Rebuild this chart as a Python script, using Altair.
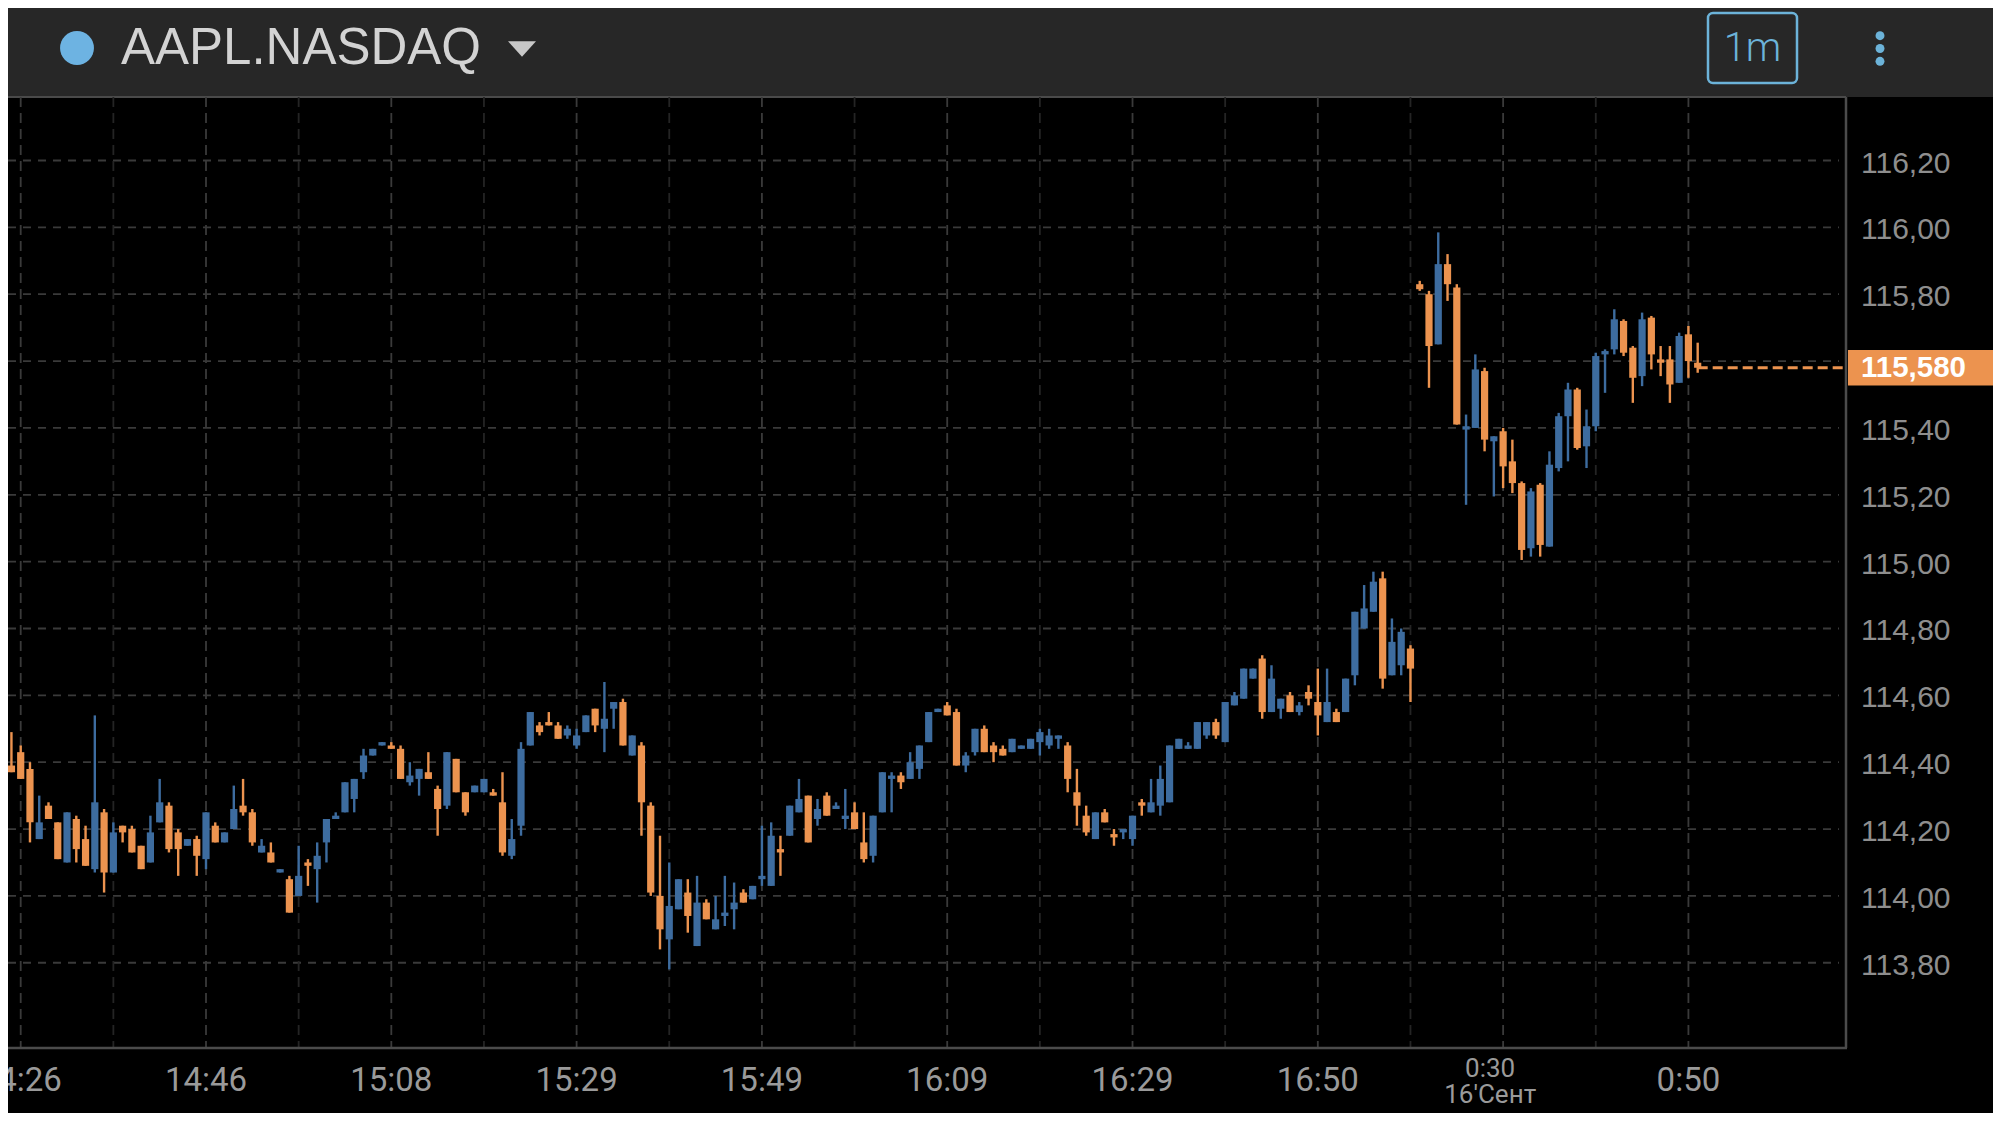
import altair as alt
import pandas as pd

# ---------------- data ----------------
first_index = -2
opens = [
    114.35, 114.39, 114.43, 114.38, 114.17, 114.27, 114.22, 114.10, 114.23, 114.17,
    114.08, 114.25, 114.07, 114.21, 114.20, 114.15, 114.10, 114.22, 114.27, 114.19,
    114.15, 114.17, 114.11, 114.21, 114.16, 114.20, 114.27, 114.25, 114.13, 114.13,
    114.07, 114.05, 114.00, 114.10, 114.08, 114.16, 114.23, 114.25, 114.29, 114.37,
    114.42, 114.45, 114.45, 114.44, 114.34, 114.35, 114.37, 114.32, 114.27, 114.41,
    114.31, 114.31, 114.31, 114.31, 114.28, 114.12, 114.21, 114.45, 114.51, 114.52,
    114.51, 114.48, 114.45, 114.49, 114.56, 114.50, 114.56, 114.58, 114.42, 114.45,
    114.27, 114.00, 113.87, 113.96, 114.01, 113.85, 113.98, 113.90, 113.94, 113.96,
    114.01, 113.99, 114.05, 114.03, 114.14, 114.18, 114.25, 114.30, 114.23, 114.30,
    114.26, 114.23, 114.25, 114.16, 114.12, 114.25, 114.35, 114.36, 114.35, 114.38,
    114.46, 114.55, 114.57, 114.55, 114.39, 114.43, 114.50, 114.45, 114.44, 114.43,
    114.44, 114.44, 114.46, 114.45, 114.47, 114.45, 114.31, 114.24, 114.17, 114.25,
    114.185, 114.19, 114.17, 114.28, 114.25, 114.27, 114.28, 114.44, 114.44, 114.44,
    114.48, 114.52, 114.46, 114.57, 114.59, 114.65, 114.71, 114.55, 114.56, 114.60,
    114.55, 114.61, 114.58, 114.52, 114.55, 114.55, 114.66, 114.80, 114.85, 114.95,
    114.66, 114.69, 114.74, 115.83, 115.80, 115.65, 115.89, 115.82, 115.395, 115.40,
    115.57, 115.36, 115.39, 115.30, 115.235, 115.04, 115.23, 115.045, 115.28, 115.435,
    115.515, 115.345, 115.405, 115.62, 115.635, 115.72, 115.64, 115.555, 115.73, 115.605,
    115.605, 115.535, 115.68, 115.595,
]
highs = [
    114.42, 114.49, 114.45, 114.40, 114.30, 114.28, 114.22, 114.25, 114.24, 114.21,
    114.54, 114.26, 114.22, 114.21, 114.21, 114.15, 114.24, 114.35, 114.28, 114.20,
    114.17, 114.18, 114.25, 114.22, 114.19, 114.33, 114.35, 114.26, 114.17, 114.16,
    114.08, 114.06, 114.15, 114.11, 114.16, 114.23, 114.25, 114.34, 114.35, 114.44,
    114.44, 114.46, 114.46, 114.45, 114.40, 114.38, 114.43, 114.33, 114.43, 114.41,
    114.31, 114.33, 114.35, 114.32, 114.37, 114.23, 114.46, 114.55, 114.52, 114.55,
    114.52, 114.51, 114.50, 114.54, 114.56, 114.64, 114.58, 114.59, 114.48, 114.46,
    114.28, 114.18, 114.10, 114.05, 114.05, 114.06, 113.99, 114.00, 114.06, 114.04,
    114.02, 114.03, 114.21, 114.22, 114.18, 114.27, 114.35, 114.30, 114.29, 114.31,
    114.28, 114.32, 114.28, 114.25, 114.24, 114.37, 114.37, 114.37, 114.43, 114.45,
    114.55, 114.56, 114.58, 114.56, 114.43, 114.50, 114.51, 114.46, 114.45, 114.47,
    114.45, 114.47, 114.50, 114.50, 114.48, 114.46, 114.38, 114.27, 114.25, 114.26,
    114.20, 114.20, 114.24, 114.29, 114.35, 114.39, 114.45, 114.47, 114.46, 114.52,
    114.52, 114.53, 114.58, 114.61, 114.68, 114.68, 114.72, 114.69, 114.59, 114.61,
    114.58, 114.63, 114.68, 114.68, 114.56, 114.65, 114.85, 114.93, 114.97, 114.97,
    114.83, 114.80, 114.75, 115.84, 115.81, 115.985, 115.92, 115.83, 115.44, 115.62,
    115.58, 115.375, 115.40, 115.365, 115.24, 115.22, 115.235, 115.33, 115.445, 115.535,
    115.52, 115.455, 115.625, 115.635, 115.755, 115.725, 115.645, 115.745, 115.735, 115.645,
    115.645, 115.685, 115.705, 115.655,
]
lows = [
    114.31, 114.37, 114.35, 114.16, 114.17, 114.23, 114.11, 114.10, 114.10, 114.09,
    114.07, 114.01, 114.07, 114.16, 114.13, 114.08, 114.10, 114.22, 114.13, 114.06,
    114.15, 114.06, 114.08, 114.16, 114.16, 114.20, 114.24, 114.15, 114.13, 114.10,
    114.07, 113.95, 114.00, 114.03, 113.98, 114.10, 114.23, 114.25, 114.25, 114.35,
    114.42, 114.45, 114.44, 114.35, 114.33, 114.30, 114.35, 114.18, 114.26, 114.31,
    114.24, 114.31, 114.31, 114.30, 114.12, 114.11, 114.18, 114.45, 114.48, 114.51,
    114.47, 114.47, 114.44, 114.49, 114.49, 114.43, 114.50, 114.45, 114.42, 114.18,
    114.00, 113.84, 113.78, 113.96, 113.89, 113.85, 113.93, 113.90, 113.91, 113.90,
    113.98, 113.99, 114.03, 114.03, 114.06, 114.18, 114.25, 114.16, 114.21, 114.24,
    114.26, 114.20, 114.20, 114.10, 114.10, 114.25, 114.25, 114.32, 114.35, 114.35,
    114.46, 114.55, 114.54, 114.39, 114.37, 114.42, 114.43, 114.40, 114.42, 114.43,
    114.44, 114.44, 114.42, 114.44, 114.44, 114.31, 114.21, 114.18, 114.17, 114.22,
    114.15, 114.17, 114.15, 114.24, 114.25, 114.24, 114.28, 114.44, 114.44, 114.44,
    114.47, 114.47, 114.46, 114.57, 114.59, 114.65, 114.53, 114.55, 114.53, 114.55,
    114.54, 114.57, 114.48, 114.52, 114.52, 114.55, 114.63, 114.80, 114.85, 114.62,
    114.66, 114.66, 114.58, 115.81, 115.52, 115.65, 115.78, 115.41, 115.17, 115.40,
    115.33, 115.195, 115.22, 115.205, 115.005, 115.015, 115.015, 115.045, 115.27, 115.30,
    115.335, 115.28, 115.39, 115.505, 115.62, 115.615, 115.475, 115.525, 115.575, 115.555,
    115.475, 115.535, 115.55, 115.565,
]
closes = [
    114.40, 114.37, 114.35, 114.22, 114.22, 114.23, 114.11, 114.25, 114.14, 114.09,
    114.28, 114.07, 114.19, 114.19, 114.13, 114.08, 114.19, 114.28, 114.14, 114.14,
    114.17, 114.12, 114.25, 114.16, 114.19, 114.26, 114.25, 114.16, 114.15, 114.10,
    114.08, 113.95, 114.06, 114.09, 114.12, 114.23, 114.24, 114.34, 114.35, 114.42,
    114.44, 114.46, 114.44, 114.35, 114.36, 114.38, 114.35, 114.26, 114.43, 114.31,
    114.25, 114.33, 114.35, 114.30, 114.13, 114.17, 114.44, 114.55, 114.49, 114.51,
    114.47, 114.50, 114.48, 114.54, 114.51, 114.53, 114.58, 114.45, 114.48, 114.28,
    114.01, 113.90, 113.97, 114.05, 113.94, 113.98, 113.93, 113.93, 113.95, 113.98,
    113.98, 114.03, 114.06, 114.18, 114.13, 114.27, 114.29, 114.16, 114.26, 114.24,
    114.27, 114.24, 114.20, 114.11, 114.24, 114.37, 114.36, 114.34, 114.40, 114.45,
    114.55, 114.56, 114.54, 114.39, 114.42, 114.50, 114.43, 114.43, 114.42, 114.47,
    114.45, 114.47, 114.49, 114.48, 114.48, 114.35, 114.27, 114.19, 114.25, 114.22,
    114.175, 114.20, 114.24, 114.27, 114.28, 114.35, 114.45, 114.47, 114.45, 114.52,
    114.52, 114.48, 114.58, 114.60, 114.68, 114.68, 114.55, 114.65, 114.59, 114.55,
    114.57, 114.59, 114.54, 114.58, 114.52, 114.65, 114.85, 114.86, 114.94, 114.65,
    114.76, 114.79, 114.68, 115.815, 115.645, 115.89, 115.83, 115.41, 115.405, 115.575,
    115.365, 115.375, 115.285, 115.235, 115.035, 115.21, 115.05, 115.29, 115.435, 115.515,
    115.34, 115.405, 115.615, 115.63, 115.725, 115.625, 115.55, 115.725, 115.62, 115.595,
    115.53, 115.675, 115.60, 115.58,
]

# axis ticks / labels
price_grid = [113.8, 114.0, 114.2, 114.4, 114.6, 114.8, 115.0, 115.2, 115.4, 115.6, 115.8, 116.0, 116.2]
major_idx = [0, 20, 40, 60, 80, 100, 120, 140, 160, 180]
minor_idx = [10, 30, 50, 70, 90, 110, 130, 150, 170]
time_idx = [0, 20, 40, 60, 80, 100, 120, 140, 180]
time_labels = ["14:26", "14:46", "15:08", "15:29", "15:49", "16:09", "16:29", "16:50", "0:50"]
day_idx = 158.6
day_time = "0:30"
day_label = "16'Сент"
symbol = "AAPL.NASDAQ"
interval = "1m"

# ---------------- styles ----------------
W, H = 1837, 951
BLUE = "#3d6c9f"
ORANGE = "#ec934f"
HEADER = "#272727"
ACCENT = "#6cb3d9"
X_DOMAIN = [-1.371, 196.9]
Y_DOMAIN = [113.545, 116.390]

df = pd.DataFrame({
    "i": list(range(first_index, first_index + len(opens))),
    "open": opens, "high": highs, "low": lows, "close": closes,
})
df["dir"] = ["up" if c >= o else "down" for o, c in zip(df["open"], df["close"])]

xs = alt.Scale(domain=X_DOMAIN, nice=False, zero=False, padding=0)
ys = alt.Scale(domain=Y_DOMAIN, nice=False, zero=False, padding=0)
color = alt.Color("dir:N", scale=alt.Scale(domain=["up", "down"], range=[BLUE, ORANGE]), legend=None)

one = pd.DataFrame({"k": [0]})

header = alt.Chart(one).mark_rect(color=HEADER).encode(
    x=alt.value(0), x2=alt.value(2000), y=alt.value(-100), y2=alt.value(0))
header_line = alt.Chart(one).mark_rule(color="#4a4a4a", strokeWidth=2).encode(
    x=alt.value(0), x2=alt.value(1838), y=alt.value(0))

hgrid = alt.Chart(pd.DataFrame({"p": price_grid})).mark_rule(
    color="#3a3a3a", strokeWidth=1.8, strokeDash=[8, 7]
).encode(y=alt.Y("p:Q", scale=ys, axis=None), x=alt.value(0), x2=alt.value(1831))

ylab_df = pd.DataFrame({
    "p": [v for v in price_grid if abs(v - 115.6) > 1e-6],
})
ylab_df["t"] = [f"{v:.2f}".replace(".", ",") for v in ylab_df["p"]]
ylabels = alt.Chart(ylab_df).mark_text(
    align="left", baseline="middle", dy=3, font="Liberation Sans", fontSize=30, color="#8e8e8e"
).encode(x=alt.value(1853), y=alt.Y("p:Q", scale=ys, axis=None), text="t:N")

vgrid_major = alt.Chart(pd.DataFrame({"g": major_idx})).mark_rule(
    color="#3a3a3a", strokeWidth=1.8, strokeDash=[10, 6]
).encode(x=alt.X("g:Q", scale=xs, axis=None), y=alt.value(0), y2=alt.value(H))
vgrid_minor = alt.Chart(pd.DataFrame({"g": minor_idx})).mark_rule(
    color="#242424", strokeWidth=1.8, strokeDash=[10, 6]
).encode(x=alt.X("g:Q", scale=xs, axis=None), y=alt.value(0), y2=alt.value(H))

frame_right = alt.Chart(one).mark_rule(color="#4b4b4b", strokeWidth=2.5).encode(
    x=alt.value(1838), y=alt.value(0), y2=alt.value(H))
frame_bottom = alt.Chart(one).mark_rule(color="#4b4b4b", strokeWidth=2.5).encode(
    x=alt.value(0), x2=alt.value(1839), y=alt.value(H))

last = df.iloc[-1]
last_df = pd.DataFrame({"i": [last["i"]], "p": [last["close"]],
                        "label": [f"{last['close']:.3f}".replace(".", ",")]})

price_line = alt.Chart(last_df).mark_rule(color=ORANGE, strokeWidth=3, strokeDash=[10, 5]).encode(
    x=alt.X("i:Q", scale=xs, axis=None), x2=alt.value(1838),
    y=alt.Y("p:Q", scale=ys, axis=None))

wicks = alt.Chart(df).mark_rule(strokeWidth=2.4).encode(
    x=alt.X("i:Q", scale=xs, axis=None),
    y=alt.Y("low:Q", scale=ys, axis=None), y2="high:Q", color=color)
bodies = alt.Chart(df).mark_bar(width=7.2).encode(
    x=alt.X("i:Q", scale=xs, axis=None),
    y=alt.Y("open:Q", scale=ys, axis=None), y2="close:Q", color=color)

tag = alt.Chart(last_df).mark_rect(color=ORANGE, yOffset=-17.8, y2Offset=17.8).encode(
    x=alt.value(1840), x2=alt.value(1995),
    y=alt.Y("p:Q", scale=ys, axis=None), y2="p:Q")
tag_text = alt.Chart(last_df).mark_text(
    align="left", baseline="middle", font="Liberation Sans", fontSize=29.5,
    fontWeight="bold", color="#ffffff"
).encode(x=alt.value(1853), y=alt.Y("p:Q", scale=ys, axis=None), text="label:N")

xlabels = alt.Chart(pd.DataFrame({"i": time_idx, "t": time_labels})).mark_text(
    align="center", baseline="middle", font="Roboto", fontSize=33, color="#9a9a9a"
).encode(x=alt.X("i:Q", scale=xs, axis=None), y=alt.value(984), text="t:N")
day_df = pd.DataFrame({"i": [day_idx], "a": [day_time], "b": [day_label]})
day1 = alt.Chart(day_df).mark_text(
    align="center", baseline="middle", font="Roboto", fontSize=26, color="#9a9a9a"
).encode(x=alt.X("i:Q", scale=xs, axis=None), y=alt.value(972), text="a:N")
day2 = alt.Chart(day_df).mark_text(
    align="center", baseline="middle", font="Roboto", fontSize=26, color="#9a9a9a"
).encode(x=alt.X("i:Q", scale=xs, axis=None), y=alt.value(998), text="b:N")

title = alt.Chart(pd.DataFrame({"t": [symbol]})).mark_text(
    align="left", baseline="middle", font="Liberation Sans", fontSize=51, color="#d3d3d3"
).encode(x=alt.value(113), y=alt.value(-48), text="t:N")
dot = alt.Chart(one).mark_point(filled=True, shape="circle", size=1150, color="#6db3e2", opacity=1).encode(
    x=alt.value(69), y=alt.value(-49))
caret = alt.Chart(one).mark_point(
    filled=True, shape="M-1,-0.55L1,-0.55L0,0.55Z", size=784, color="#c8c8c8", opacity=1
).encode(x=alt.value(514), y=alt.value(-48))
box = alt.Chart(one).mark_rect(fill=HEADER, stroke=ACCENT, strokeWidth=2.5, cornerRadius=5).encode(
    x=alt.value(1700), x2=alt.value(1789), y=alt.value(-84), y2=alt.value(-14))
box_text = alt.Chart(pd.DataFrame({"t": [interval]})).mark_text(
    align="center", baseline="middle", font="Roboto", fontWeight=300, fontSize=40, color=ACCENT
).encode(x=alt.value(1744.5), y=alt.value(-48), text="t:N")
menu = [alt.Chart(one).mark_point(filled=True, shape="circle", size=80, color=ACCENT, opacity=1).encode(
    x=alt.value(1872), y=alt.value(yy)) for yy in (-61.3, -48.5, -35.7)]

chart = alt.layer(
    header, header_line, hgrid, vgrid_minor, vgrid_major, frame_right, frame_bottom,
    price_line, wicks, bodies, ylabels, tag, tag_text, xlabels, day1, day2,
    title, dot, caret, box, box_text, *menu
).properties(
    width=W, height=H,
    padding={"left": 0, "top": 89, "right": 148, "bottom": 65},
    autosize=alt.AutoSizeParams(type="none"),
    background="#000000",
).configure_view(strokeWidth=0)

chart.save("out.html", embed_options={"renderer": "svg", "actions": False})
